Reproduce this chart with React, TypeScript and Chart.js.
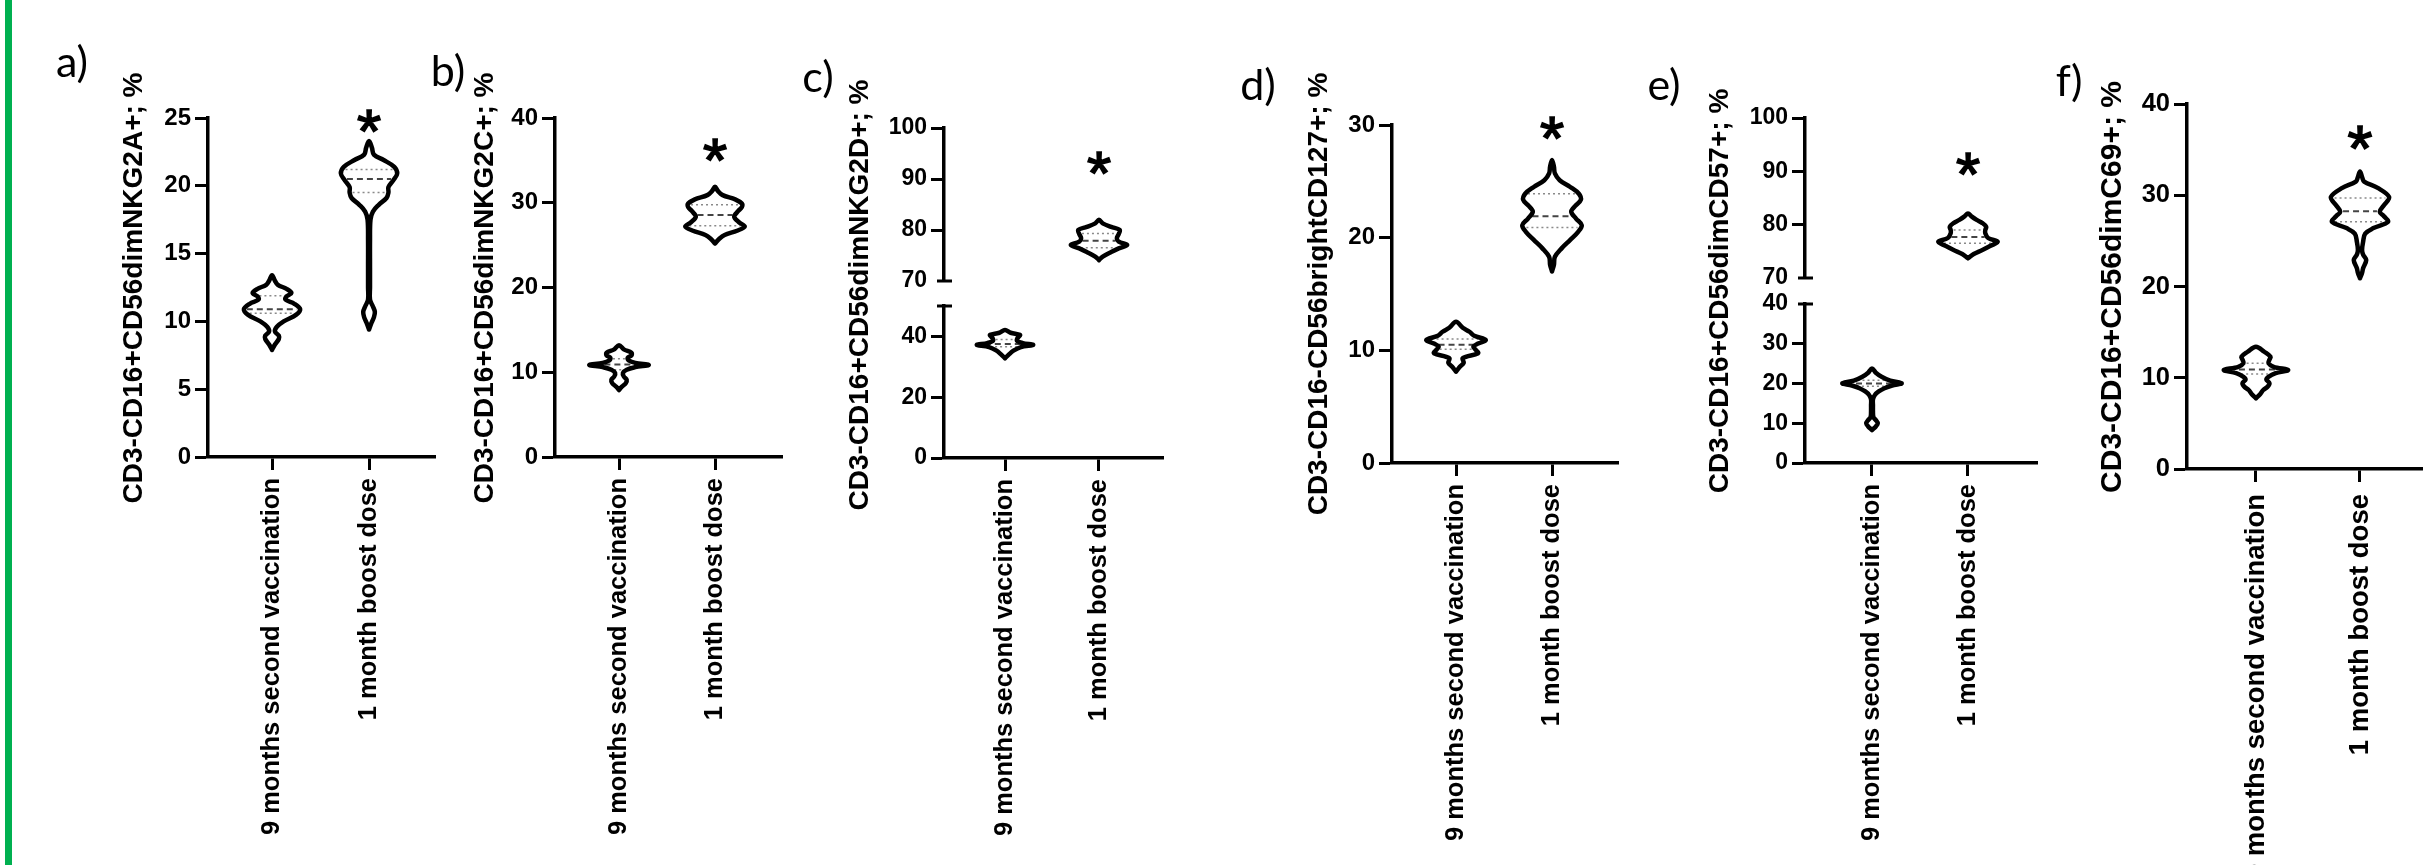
import React, { useEffect, useRef } from 'react';
import { Chart, registerables } from 'chart.js';

Chart.register(...registerables);

// ---------- data ----------
const CATEGORIES = ['9 months second vaccination', '1 month boost dose'];

// a) NKG2A
const A_TITLE = 'CD3-CD16+CD56dimNKG2A+; %';
const A_TICKS = [0, 5, 10, 15, 20, 25];
const A_9M_LEVELS = [7.9, 8.3, 8.7, 8.95, 9.25, 9.6, 10.0, 10.5, 10.9, 11.3, 11.6, 11.85, 12.1, 12.4, 12.7, 13.0, 13.4];
const A_9M_WIDTHS = [0, 0.03, 0.07, 0.07, 0.03, 0.05, 0.12, 0.25, 0.29, 0.23, 0.14, 0.15, 0.2, 0.15, 0.06, 0.03, 0];
const A_9M_QUART = [10.6, 10.9, 11.9];
const A_1M_LEVELS = [9.4, 9.8, 10.3, 10.7, 11.1, 11.6, 12.5, 14, 16, 17.5, 18.1, 18.6, 19.1, 19.5, 19.9, 20.4, 20.9, 21.4, 21.9, 22.3, 22.8, 23.3];
const A_1M_WIDTHS = [0, 0.02, 0.05, 0.06, 0.04, 0.01, 0.01, 0.01, 0.01, 0.015, 0.04, 0.1, 0.18, 0.2, 0.2, 0.25, 0.29, 0.26, 0.15, 0.05, 0.03, 0];
const A_1M_QUART = [19.5, 20.5, 21.2];
const A_STAR = 25.0;

// b) NKG2C
const B_TITLE = 'CD3-CD16+CD56dimNKG2C+; %';
const B_TICKS = [0, 10, 20, 30, 40];
const B_9M_LEVELS = [7.9, 8.3, 8.7, 9.1, 9.5, 9.9, 10.3, 10.6, 10.86, 11.1, 11.4, 11.7, 12.0, 12.3, 12.7, 13.2];
const B_9M_WIDTHS = [0, 0.03, 0.07, 0.08, 0.05, 0.04, 0.08, 0.17, 0.31, 0.17, 0.1, 0.09, 0.13, 0.13, 0.05, 0];
const B_9M_QUART = [10.3, 10.9, 11.6];
const B_1M_LEVELS = [25.2, 25.7, 26.2, 26.7, 27.2, 27.7, 28.35, 29.0, 29.5, 29.9, 30.4, 30.9, 31.4, 31.9];
const B_1M_WIDTHS = [0, 0.04, 0.1, 0.23, 0.31, 0.25, 0.2, 0.24, 0.28, 0.28, 0.21, 0.08, 0.03, 0];
const B_1M_QUART = [27.3, 28.55, 29.75];
const B_STAR = 36.6;

// c) NKG2D (broken axis)
const C_TITLE = 'CD3-CD16+CD56dimNKG2D+; %';
const C_UPPER_TICKS = [70, 80, 90, 100];
const C_LOWER_TICKS = [0, 20, 40];
const C_9M_LEVELS = [32.8, 34.0, 35.3, 36.5, 37.2, 37.8, 38.5, 39.3, 40.0, 40.5, 41.2, 42.1];
const C_9M_WIDTHS = [0, 0.04, 0.09, 0.17, 0.3, 0.19, 0.13, 0.13, 0.15, 0.16, 0.06, 0];
const C_9M_QUART = [36.6, 37.5, 39.0];
const C_1M_LEVELS = [74.1, 74.8, 75.7, 76.4, 77.06, 77.7, 78.4, 79.2, 80.0, 80.6, 81.3, 82.0];
const C_1M_WIDTHS = [0, 0.04, 0.13, 0.21, 0.3, 0.21, 0.19, 0.21, 0.22, 0.13, 0.04, 0];
const C_1M_QUART = [76.5, 77.9, 79.3];
const C_STAR = 93.7;

// d) CD127
const D_TITLE = 'CD3-CD16-CD56brightCD127+; %';
const D_TICKS = [0, 10, 20, 30];
const D_9M_LEVELS = [8.1, 8.55, 8.9, 9.3, 9.74, 10.0, 10.32, 10.6, 10.92, 11.3, 11.65, 12.0, 12.54];
const D_9M_WIDTHS = [0, 0.04, 0.08, 0.07, 0.23, 0.21, 0.18, 0.23, 0.31, 0.19, 0.14, 0.07, 0];
const D_9M_QUART = [10.1, 10.5, 11.0];
const D_1M_LEVELS = [17.0, 17.6, 18.3, 19.05, 19.8, 20.5, 21.1, 21.7, 22.3, 22.8, 23.35, 23.9, 24.5, 25.1, 25.7, 26.3, 26.9];
const D_1M_WIDTHS = [0, 0.02, 0.03, 0.1, 0.19, 0.27, 0.31, 0.25, 0.2, 0.24, 0.3, 0.28, 0.19, 0.08, 0.03, 0.02, 0];
const D_1M_QUART = [20.9, 21.9, 23.9];
const D_STAR = 30.0;

// e) CD57 (broken axis)
const E_TITLE = 'CD3-CD16+CD56dimCD57+; %';
const E_UPPER_TICKS = [70, 80, 90, 100];
const E_LOWER_TICKS = [0, 10, 20, 30, 40];
const E_9M_LEVELS = [8.3, 9.2, 10.0, 10.8, 11.5, 13, 14.5, 16, 17.1, 18, 18.8, 19.5, 20.05, 20.7, 21.7, 22.7, 23.8];
const E_9M_WIDTHS = [0, 0.04, 0.06, 0.04, 0.015, 0.01, 0.01, 0.01, 0.03, 0.07, 0.13, 0.21, 0.31, 0.19, 0.1, 0.04, 0];
const E_9M_QUART = [19.3, 20.0, 20.8];
const E_1M_LEVELS = [73.7, 74.5, 75.25, 76.0, 76.8, 77.5, 78.4, 79.0, 79.6, 80.3, 80.9, 81.5, 82.1];
const E_1M_WIDTHS = [0, 0.06, 0.15, 0.23, 0.31, 0.21, 0.18, 0.18, 0.19, 0.15, 0.09, 0.04, 0];
const E_1M_QUART = [76.5, 77.7, 79.0];
const E_STAR = 91.9;

// f) C69
const F_TITLE = 'CD3-CD16+CD56dimC69+; %';
const F_TICKS = [0, 10, 20, 30, 40];
const F_9M_LEVELS = [7.75, 8.2, 8.66, 9.0, 9.4, 9.8, 10.1, 10.5, 10.85, 11.2, 11.6, 12.0, 12.3, 12.85, 13.4];
const F_9M_WIDTHS = [0, 0.04, 0.07, 0.11, 0.13, 0.1, 0.12, 0.19, 0.31, 0.17, 0.12, 0.13, 0.14, 0.08, 0];
const F_9M_QUART = [10.4, 10.9, 11.6];
const F_1M_LEVELS = [20.9, 21.5, 22.0, 22.9, 23.5, 24.0, 24.9, 25.8, 26.4, 27.1, 27.7, 28.2, 28.9, 29.8, 30.8, 31.5, 32.0, 32.6];
const F_1M_WIDTHS = [0, 0.02, 0.03, 0.06, 0.03, 0.02, 0.03, 0.05, 0.13, 0.27, 0.23, 0.19, 0.23, 0.28, 0.17, 0.04, 0.02, 0];
const F_1M_QUART = [27.1, 28.25, 29.7];
const F_STAR = 36.5;

// ---------- helpers ----------
const PAGE_H = 865;
const FONT = "'Liberation Sans', Arial, sans-serif";

type Violin = { center: number; levels: number[]; widths: number[]; quart: number[] };

function halfAt(levels: number[], widths: number[], v: number) {
  for (let i = 0; i < levels.length - 1; i++) {
    if (v >= levels[i] && v <= levels[i + 1]) {
      const t = (v - levels[i]) / (levels[i + 1] - levels[i]);
      return widths[i] + t * (widths[i + 1] - widths[i]);
    }
  }
  return 0;
}

function violinDatasets(vl: Violin) {
  const right = vl.levels.map((v, i) => ({ x: vl.center + vl.widths[i], y: v }));
  const left: { x: number; y: number }[] = [];
  for (let i = vl.levels.length - 2; i >= 0; i--) left.push({ x: vl.center - vl.widths[i], y: vl.levels[i] });
  const outline: any = {
    data: [...right, ...left],
    borderColor: '#000',
    borderWidth: 4.5,
    pointRadius: 0,
    tension: 0.35,
    fill: false,
    borderJoinStyle: 'round',
    borderCapStyle: 'round',
    order: 0,
  };
  const qs = vl.quart.map((q, k) => {
    const w = Math.max(halfAt(vl.levels, vl.widths, q) - 0.03, 0.01);
    return {
      data: [{ x: vl.center - w, y: q }, { x: vl.center + w, y: q }],
      borderColor: k === 1 ? '#444' : '#8a8a8a',
      borderWidth: k === 1 ? 2 : 1.5,
      borderDash: k === 1 ? [6, 4] : [2, 3],
      pointRadius: 0,
      tension: 0,
      fill: false,
      order: 1,
    } as any;
  });
  return [outline, ...qs];
}

const panelTextPlugin = {
  id: 'panelText',
  afterDraw(chart: any, _args: any, opts: any) {
    const ctx = chart.ctx;
    ctx.save();
    ctx.fillStyle = '#000';
    if (opts.letter) {
      ctx.font = `43px Lato, 'Open Sans', sans-serif`;
      ctx.textAlign = 'center';
      ctx.textBaseline = 'middle';
      ctx.fillText(opts.letter, opts.letterX, opts.letterY);
    }
    if (opts.title) {
      ctx.save();
      ctx.translate(opts.titleX, opts.titleY);
      ctx.rotate(-Math.PI / 2);
      ctx.font = `bold ${opts.titleSize}px ${FONT}`;
      ctx.textAlign = 'center';
      ctx.textBaseline = 'middle';
      ctx.fillText(opts.title, 0, 0);
      ctx.restore();
    }
    if (opts.star !== undefined && opts.star !== null) {
      const x = chart.scales.x.getPixelForValue(1);
      const y = chart.scales.y.getPixelForValue(opts.star);
      ctx.font = `${opts.starSize}px ${FONT}`;
      ctx.textAlign = 'center';
      ctx.textBaseline = 'alphabetic';
      ctx.lineWidth = 1.6;
      ctx.strokeStyle = '#000';
      ctx.fillText('*', x, y + 0.553 * opts.starSize);
      ctx.strokeText('*', x, y + 0.553 * opts.starSize);
    }
    if (opts.breakAt) {
      const ax = chart.chartArea.left;
      const y = opts.breakAt === 'bottom' ? chart.scales.y.bottom : chart.scales.y.top;
      ctx.strokeStyle = '#000';
      ctx.lineWidth = 3;
      ctx.beginPath();
      ctx.moveTo(ax - 7, y);
      ctx.lineTo(ax + 8, y);
      ctx.stroke();
    }
    ctx.restore();
  },
};

type Spec = {
  key: string;
  left: number;
  width: number;
  axisX: number;
  xRight: number;
  top: number;
  bottom: number;
  xMin: number;
  xMax: number;
  yMin: number;
  yMax: number;
  ticks: number[];
  tickSize: number;
  labelSize: number;
  labelPad?: number;
  showX: boolean;
  violins: Violin[];
  star?: number;
  starSize?: number;
  letter?: string;
  letterX?: number;
  letterY?: number;
  title?: string;
  titleX?: number;
  titleY?: number;
  titleSize?: number;
  breakAt?: 'top' | 'bottom';
  hide?: number[];
};

function buildConfig(s: Spec): any {
  const datasets = s.violins.flatMap((v) => violinDatasets(v));
  const hide = s.hide || [];
  const Y_W = 60;
  return {
    type: 'line',
    data: { datasets },
    plugins: [panelTextPlugin],
    options: {
      responsive: false,
      maintainAspectRatio: false,
      animation: false,
      events: [],
      layout: {
        padding: {
          left: s.axisX - Y_W - s.left,
          right: s.left + s.width - s.xRight,
          top: s.top,
          bottom: s.showX ? 0 : PAGE_H - s.bottom,
        },
      },
      plugins: {
        legend: { display: false },
        tooltip: { enabled: false },
        panelText: {
          letter: s.letter,
          letterX: (s.letterX || 0) - s.left,
          letterY: s.letterY,
          title: s.title,
          titleX: (s.titleX || 0) - s.left,
          titleY: s.titleY,
          titleSize: s.titleSize,
          star: s.star,
          starSize: s.starSize,
          breakAt: s.breakAt,
        },
      },
      scales: {
        x: {
          type: 'linear',
          min: s.xMin,
          max: s.xMax,
          display: s.showX,
          afterBuildTicks: (sc: any) => {
            sc.ticks = [{ value: 0 }, { value: 1 }];
          },
          afterFit: (sc: any) => {
            if (s.showX) sc.height = PAGE_H - s.bottom;
          },
          grid: {
            display: true,
            drawOnChartArea: false,
            drawTicks: true,
            tickLength: 13,
            tickWidth: 3,
            tickColor: '#000',
          },
          border: { display: true, color: '#000', width: 3.5 },
          ticks: {
            autoSkip: false,
            minRotation: 90,
            maxRotation: 90,
            padding: s.labelPad ?? 8,
            color: '#000',
            font: { family: FONT, weight: 'bold', size: s.labelSize },
            callback: (v: any) => (v === 0 ? CATEGORIES[0] : v === 1 ? CATEGORIES[1] : ''),
          },
        },
        y: {
          type: 'linear',
          min: s.yMin,
          max: s.yMax,
          afterBuildTicks: (sc: any) => {
            sc.ticks = s.ticks.map((v) => ({ value: v }));
          },
          afterFit: (sc: any) => {
            sc.width = Y_W;
          },
          grid: {
            display: true,
            drawOnChartArea: false,
            drawTicks: true,
            tickLength: 13,
            tickWidth: 3,
            tickColor: (ctx: any) => (ctx.tick && hide.includes(ctx.tick.value) ? 'rgba(0,0,0,0)' : '#000'),
          },
          border: { display: true, color: '#000', width: 3.5 },
          ticks: {
            autoSkip: false,
            padding: 4,
            color: '#000',
            font: { family: FONT, weight: 'bold', size: s.tickSize },
          },
        },
      },
    },
  };
}

const SPECS: Spec[] = [
  {
    key: 'a', left: 30, width: 435, axisX: 208, xRight: 435, top: 118, bottom: 457,
    xMin: -0.66, xMax: 1.68, yMin: 0, yMax: 25, ticks: A_TICKS, tickSize: 24, labelSize: 25.5, showX: true,
    violins: [
      { center: 0, levels: A_9M_LEVELS, widths: A_9M_WIDTHS, quart: A_9M_QUART },
      { center: 1, levels: A_1M_LEVELS, widths: A_1M_WIDTHS, quart: A_1M_QUART },
    ],
    star: A_STAR, starSize: 62, letter: 'a)', letterX: 72, letterY: 63,
    title: A_TITLE, titleX: 134, titleY: 288, titleSize: 28,
  },
  {
    key: 'b', left: 405, width: 407, axisX: 555, xRight: 782, top: 118, bottom: 457,
    xMin: -0.667, xMax: 1.698, yMin: 0, yMax: 40, ticks: B_TICKS, tickSize: 24, labelSize: 25.5, showX: true,
    violins: [
      { center: 0, levels: B_9M_LEVELS, widths: B_9M_WIDTHS, quart: B_9M_QUART },
      { center: 1, levels: B_1M_LEVELS, widths: B_1M_WIDTHS, quart: B_1M_QUART },
    ],
    star: B_STAR, starSize: 62, letter: 'b)', letterX: 448, letterY: 72,
    title: B_TITLE, titleX: 485, titleY: 288, titleSize: 28,
  },
  {
    key: 'c-low', left: 775, width: 418, axisX: 944, xRight: 1163, top: 306, bottom: 458,
    xMin: -0.649, xMax: 1.681, yMin: 0, yMax: 50, ticks: C_LOWER_TICKS, tickSize: 23, labelSize: 25.5, showX: true,
    violins: [{ center: 0, levels: C_9M_LEVELS, widths: C_9M_WIDTHS, quart: C_9M_QUART }],
    letter: 'c)', letterX: 818, letterY: 78,
    title: C_TITLE, titleX: 860, titleY: 295, titleSize: 28, breakAt: 'top',
  },
  {
    key: 'c-up', left: 775, width: 418, axisX: 944, xRight: 1163, top: 128, bottom: 281,
    xMin: -0.649, xMax: 1.681, yMin: 70, yMax: 100, ticks: C_UPPER_TICKS, tickSize: 23, labelSize: 25.5, showX: false,
    violins: [{ center: 1, levels: C_1M_LEVELS, widths: C_1M_WIDTHS, quart: C_1M_QUART }],
    star: C_STAR, starSize: 62, breakAt: 'bottom', hide: [70],
  },
  {
    key: 'd', left: 1215, width: 433, axisX: 1392, xRight: 1618, top: 125, bottom: 463,
    xMin: -0.667, xMax: 1.6875, yMin: 0, yMax: 30, ticks: D_TICKS, tickSize: 24, labelSize: 25.5, showX: true,
    violins: [
      { center: 0, levels: D_9M_LEVELS, widths: D_9M_WIDTHS, quart: D_9M_QUART },
      { center: 1, levels: D_1M_LEVELS, widths: D_1M_WIDTHS, quart: D_1M_QUART },
    ],
    star: D_STAR, starSize: 62, letter: 'd)', letterX: 1258, letterY: 86,
    title: D_TITLE, titleX: 1319, titleY: 294, titleSize: 28,
  },
  {
    key: 'e-low', left: 1620, width: 447, axisX: 1805, xRight: 2037, top: 304, bottom: 463,
    xMin: -0.698, xMax: 1.719, yMin: 0, yMax: 40, ticks: E_LOWER_TICKS, tickSize: 23, labelSize: 25.5, showX: true,
    violins: [{ center: 0, levels: E_9M_LEVELS, widths: E_9M_WIDTHS, quart: E_9M_QUART }],
    letter: 'e)', letterX: 1664, letterY: 86,
    title: E_TITLE, titleX: 1720, titleY: 291, titleSize: 28, breakAt: 'top', hide: [40],
  },
  {
    key: 'e-up', left: 1620, width: 447, axisX: 1805, xRight: 2037, top: 118, bottom: 278,
    xMin: -0.698, xMax: 1.719, yMin: 70, yMax: 100, ticks: E_UPPER_TICKS, tickSize: 23, labelSize: 25.5, showX: false,
    violins: [{ center: 1, levels: E_1M_LEVELS, widths: E_1M_WIDTHS, quart: E_1M_QUART }],
    star: E_STAR, starSize: 62, breakAt: 'bottom', hide: [70],
  },
  {
    key: 'f', left: 2025, width: 448, axisX: 2187, xRight: 2443, top: 104, bottom: 469,
    xMin: -0.663, xMax: 1.798, yMin: 0, yMax: 40, ticks: F_TICKS, tickSize: 25.5, labelSize: 27.5, labelPad: 12, showX: true,
    violins: [
      { center: 0, levels: F_9M_LEVELS, widths: F_9M_WIDTHS, quart: F_9M_QUART },
      { center: 1, levels: F_1M_LEVELS, widths: F_1M_WIDTHS, quart: F_1M_QUART },
    ],
    star: F_STAR, starSize: 64, letter: 'f)', letterX: 2069, letterY: 82,
    title: F_TITLE, titleX: 2113, titleY: 287, titleSize: 30,
  },
];

function ViolinPanel({ spec }: { spec: Spec }) {
  const ref = useRef<HTMLCanvasElement>(null);
  useEffect(() => {
    if (!ref.current) return;
    const chart = new Chart(ref.current, buildConfig(spec));
    return () => chart.destroy();
  }, [spec]);
  return (
    <canvas
      ref={ref}
      width={spec.width}
      height={PAGE_H}
      style={{ position: 'absolute', left: spec.left, top: 0, width: spec.width, height: PAGE_H }}
    />
  );
}

export default function App() {
  return (
    <div
      style={{
        position: 'fixed',
        left: 0,
        top: 0,
        width: 2423,
        height: PAGE_H,
        background: '#fff',
        overflow: 'hidden',
      }}
    >
      <div style={{ position: 'absolute', left: 5, top: 0, width: 7, height: PAGE_H, background: '#00B050' }} />
      {SPECS.map((s) => (
        <ViolinPanel key={s.key} spec={s} />
      ))}
    </div>
  );
}
